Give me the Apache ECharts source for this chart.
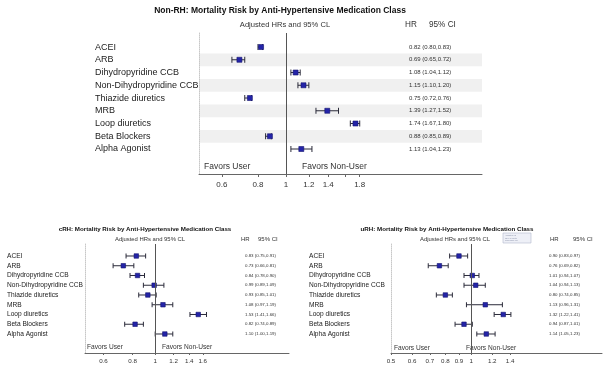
<!DOCTYPE html>
<html>
<head>
<meta charset="utf-8">
<script src="https://cdn.jsdelivr.net/npm/echarts@6/dist/echarts.min.js"></script>
<style>html,body{margin:0;padding:0;background:#fff}#c{width:612px;height:373px}</style>
</head>
<body>
<div id="c"></div>
<script>
const rowLabels = ['ACEI','ARB','Dihydropyridine CCB','Non-Dihydropyridine CCB','Thiazide diuretics','MRB','Loop diuretics','Beta Blockers','Alpha Agonist'];

const nonrhHR = [0.82,0.69,1.08,1.15,0.75,1.39,1.74,0.88,1.13];
const nonrhLo = [0.80,0.65,1.04,1.10,0.72,1.27,1.67,0.85,1.04];
const nonrhHi = [0.83,0.72,1.12,1.20,0.76,1.52,1.80,0.89,1.23];

const crhHR = [0.83,0.73,0.84,0.99,0.93,1.08,1.53,0.82,1.10];
const crhLo = [0.75,0.66,0.78,0.89,0.85,0.97,1.41,0.74,1.00];
const crhHi = [0.91,0.81,0.90,1.09,1.01,1.19,1.66,0.89,1.19];

const urhHR = [0.90,0.76,1.01,1.04,0.80,1.13,1.32,0.94,1.14];
const urhLo = [0.83,0.69,0.94,0.94,0.74,0.96,1.22,0.87,1.05];
const urhHi = [0.97,0.82,1.07,1.13,0.85,1.31,1.41,1.01,1.23];

const nonrhTicks = [0.6,0.8,1,1.2,1.4,1.6,1.8];
const nonrhTickLabels = [0.6,0.8,1,1.2,1.4,1.8];
const crhTicks = [0.6,0.8,1,1.2,1.4,1.6];
const crhTickLabels = [0.6,0.8,1,1.2,1.4,1.6];
const urhTicks = [0.5,0.6,0.7,0.8,0.9,1,1.2,1.4];
const urhTickLabels = [0.5,0.6,0.7,0.8,0.9,1,1.2,1.4];

const shadedRows = [1,3,5,7];

const FONT = '"Liberation Sans", Arial, sans-serif';
const rowIdx = rowLabels.map((_, i) => i);

function ciText(hr, lo, hi, i) {
  return hr[i].toFixed(2) + ' (' + lo[i].toFixed(2) + ',' + hi[i].toFixed(2) + ')';
}

function renderBar(capH, color) {
  return function (params, api) {
    const a = api.coord([api.value(0), api.value(2)]);
    const b = api.coord([api.value(1), api.value(2)]);
    const style = { stroke: color, lineWidth: 1 };
    return {
      type: 'group',
      children: [
        { type: 'line', shape: { x1: a[0], y1: a[1], x2: b[0], y2: b[1] }, style: style },
        { type: 'line', shape: { x1: a[0], y1: a[1] - capH, x2: a[0], y2: a[1] + capH }, style: style },
        { type: 'line', shape: { x1: b[0], y1: b[1] - capH, x2: b[0], y2: b[1] + capH }, style: style }
      ]
    };
  };
}

const panels = [
  { hr: nonrhHR, lo: nonrhLo, hi: nonrhHi, ticks: nonrhTicks, tickLabels: nonrhTickLabels,
    grid: { left: 199, top: 33, width: 283, height: 141 }, xmin: 0.5, xmax: 4.77, ymin: -1.1, ymax: 9.96,
    labelMargin: 104, labelSize: 9, ciOffset: -73, ciSize: 6, tickSize: 8, tickMargin: 7, tickLen: 3,
    sym: 5, cap: 3, shade: true },
  { hr: crhHR, lo: crhLo, hi: crhHi, ticks: crhTicks, tickLabels: crhTickLabels,
    grid: { left: 85, top: 244, width: 204, height: 109 }, xmin: 0.5, xmax: 3.75, ymin: -1.23, ymax: 9.95,
    labelMargin: 78, labelSize: 6.6, ciOffset: -44, ciSize: 4.4, tickSize: 6.2, tickMargin: 5, tickLen: 2,
    sym: 4.5, cap: 2.5, shade: false },
  { hr: urhHR, lo: urhLo, hi: urhHi, ticks: urhTicks, tickLabels: urhTickLabels,
    grid: { left: 391, top: 244, width: 211, height: 109 }, xmin: 0.5, xmax: 3.1, ymin: -1.23, ymax: 9.95,
    labelMargin: 82, labelSize: 6.6, ciOffset: -53, ciSize: 4.4, tickSize: 6.2, tickMargin: 5, tickLen: 2,
    sym: 4.5, cap: 2.5, shade: false }
];

const grid = [], xAxis = [], yAxis = [], series = [];
panels.forEach((p, k) => {
  grid.push(p.grid);
  xAxis.push({
    type: 'log', gridIndex: k, min: p.xmin, max: p.xmax, logBase: 10, position: 'bottom', z: 10,
    axisLine: { show: true, onZero: false, lineStyle: { color: '#666', width: 1 } },
    axisTick: { show: true, length: p.tickLen, customValues: p.ticks, lineStyle: { color: '#666' } },
    axisLabel: { customValues: p.tickLabels, fontSize: p.tickSize, color: '#333', fontFamily: FONT, margin: p.tickMargin,
                 formatter: v => String(Math.round(v * 10) / 10) },
    splitLine: { show: false }, minorTick: { show: false }
  });
  yAxis.push({
    type: 'value', gridIndex: k, min: p.ymin, max: p.ymax, inverse: true, z: 10,
    axisLine: { show: true, onZero: false, lineStyle: { color: '#c8c8c8', type: 'dotted', width: 1 } },
    axisTick: { show: false }, splitLine: { show: false },
    axisLabel: { customValues: rowIdx, align: 'left', margin: p.labelMargin, fontSize: p.labelSize, color: '#222', fontFamily: FONT,
                 formatter: v => rowLabels[Math.round(v)] || '' }
  });
  yAxis.push({
    type: 'value', gridIndex: k, min: p.ymin, max: p.ymax, inverse: true, position: 'right', offset: p.ciOffset, z: 10,
    axisLine: { show: false, onZero: false }, axisTick: { show: false }, splitLine: { show: false },
    axisLabel: { customValues: rowIdx, align: 'left', margin: 0, fontSize: p.ciSize, color: '#333', fontFamily: FONT,
                 formatter: v => { const i = Math.round(v); return ciText(p.hr, p.lo, p.hi, i); } }
  });
  if (p.shade) {
    series.push({
      type: 'line', xAxisIndex: k, yAxisIndex: 2 * k, data: [], z: 1, silent: true,
      markArea: { silent: true, itemStyle: { color: '#f0f0f0' },
        data: shadedRows.map(r => [{ yAxis: r - 0.5 }, { yAxis: r + 0.5 }]) }
    });
  }
  series.push({
    type: 'custom', xAxisIndex: k, yAxisIndex: 2 * k, z: 3, silent: true,
    renderItem: renderBar(p.cap, '#2b2b3a'),
    encode: { x: [0, 1], y: 2 },
    data: rowIdx.map(i => [p.lo[i], p.hi[i], i])
  });
  series.push({
    type: 'scatter', xAxisIndex: k, yAxisIndex: 2 * k, z: 4, silent: true,
    symbol: 'rect', symbolSize: p.sym,
    itemStyle: { color: '#2424a8', borderColor: '#14146e', borderWidth: 0.6, opacity: 1 },
    data: rowIdx.map(i => [p.hr[i], i]),
    markLine: { silent: true, symbol: ['none', 'none'], label: { show: false },
      lineStyle: { color: '#555', type: 'solid', width: 1 }, data: [{ xAxis: 1 }] }
  });
});

function txt(x, y, text, size, opts) {
  return { type: 'text', x: x, y: y,
    style: Object.assign({ text: text, fontSize: size, fontFamily: FONT, fill: '#222',
      textAlign: 'left', textVerticalAlign: 'middle' }, (opts && opts.style) || {}) };
}

const graphic = [
  txt(280, 11, 'Non-RH: Mortality Risk by Anti-Hypertensive Medication Class', 8.5, { style: { fontWeight: 'bold', textAlign: 'center', fill: '#111' } }),
  txt(285, 25, 'Adjusted HRs and 95% CL', 7.6, { style: { textAlign: 'center', fill: '#333' } }),
  txt(405, 25, 'HR', 8.2, { style: { fill: '#333' } }),
  txt(429, 25, '95% CI', 8.2, { style: { fill: '#333' } }),
  txt(204, 167, 'Favors User', 8.5, { style: { fill: '#333' } }),
  txt(302, 167, 'Favors Non-User', 8.5, { style: { fill: '#333' } }),

  txt(145, 229, 'cRH: Mortality Risk by Anti-Hypertensive Medication Class', 6.2, { style: { fontWeight: 'bold', textAlign: 'center', fill: '#111' } }),
  txt(150, 239, 'Adjusted HRs and 95% CL', 5.9, { style: { textAlign: 'center', fill: '#333' } }),
  txt(241, 239, 'HR', 6, { style: { fill: '#333' } }),
  txt(258, 239, '95% CI', 6, { style: { fill: '#333' } }),
  txt(87, 347, 'Favors User', 6.6, { style: { fill: '#333' } }),
  txt(162, 347, 'Favors Non-User', 6.6, { style: { fill: '#333' } }),

  txt(447, 229, 'uRH: Mortality Risk by Anti-Hypertensive Medication Class', 6.2, { style: { fontWeight: 'bold', textAlign: 'center', fill: '#111' } }),
  txt(455, 239, 'Adjusted HRs and 95% CL', 5.9, { style: { textAlign: 'center', fill: '#333' } }),
  txt(550, 239, 'HR', 6, { style: { fill: '#333' } }),
  txt(573, 239, '95% CI', 6, { style: { fill: '#333' } }),
  txt(394, 348, 'Favors User', 6.6, { style: { fill: '#333' } }),
  txt(466, 348, 'Favors Non-User', 6.6, { style: { fill: '#333' } }),

  { type: 'rect', shape: { x: 503, y: 233, width: 28, height: 10 },
    style: { fill: '#eef0f7', stroke: '#b4b8cc', lineWidth: 0.6 } },
  txt(505, 235.5, 'Adjusted HR', 2, { style: { fill: '#8890a8' } }),
  txt(505, 238, '95% CI limits', 2, { style: { fill: '#8890a8' } }),
  txt(505, 240.5, 'Reference line', 2, { style: { fill: '#8890a8' } })
];

const chart = echarts.init(document.getElementById('c'), null, { renderer: 'canvas' });
chart.setOption({
  animation: false,
  backgroundColor: '#fff',
  grid: grid, xAxis: xAxis, yAxis: yAxis, series: series, graphic: graphic
});
</script>
</body>
</html>
